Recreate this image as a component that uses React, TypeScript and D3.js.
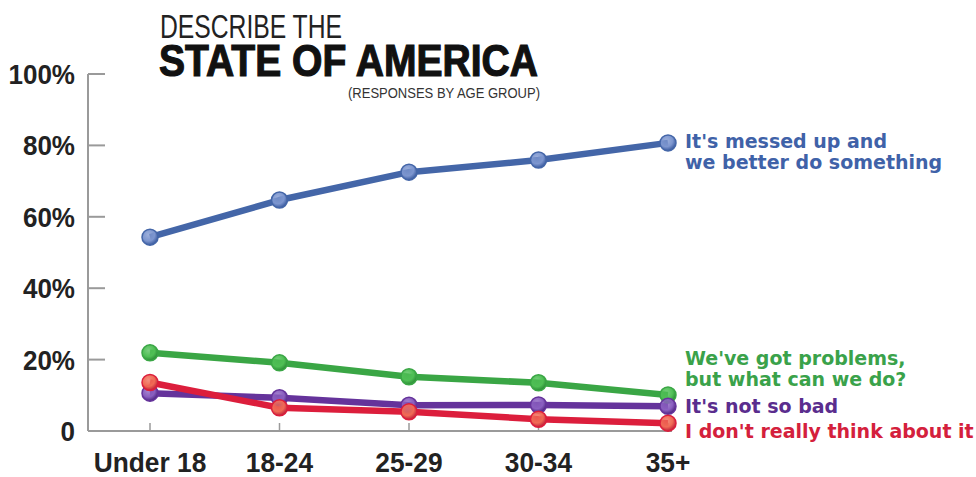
import React from "react";
import * as d3 from "d3";

const categories = ["Under 18", "18-24", "25-29", "30-34", "35+"];
const yTicks = [0, 20, 40, 60, 80, 100];
const yTickLabels = ["0", "20%", "40%", "60%", "80%", "100%"];

const messedUp = [54.3, 64.7, 72.5, 75.9, 80.7];
const gotProblems = [21.9, 19.1, 15.2, 13.5, 10.1];
const notSoBad = [10.6, 9.3, 7.2, 7.3, 6.9];
const dontThink = [13.6, 6.5, 5.4, 3.3, 2.2];

const seriesNames = ["messed", "problems", "notbad", "dontthink"];
const seriesLabels = [
  ["It's messed up and", "we better do something"],
  ["We've got problems,", "but what can we do?"],
  ["It's not so bad"],
  ["I don't really think about it"],
];

const W = 976;
const H = 477;

export default function App() {
  const x = d3.scalePoint<string>().domain(categories).range([150, 668]);
  const y = d3.scaleLinear().domain([0, 100]).range([431, 74]);

  const series = [
    { name: seriesNames[1], values: gotProblems, line: "#3aa645", dot: "#4fbf55", dark: "#2a8a35", text: "#3aa24a", label: seriesLabels[1] },
    { name: seriesNames[2], values: notSoBad, line: "#65339b", dot: "#8a5fc0", dark: "#4c2480", text: "#5a2d8e", label: seriesLabels[2] },
    { name: seriesNames[3], values: dontThink, line: "#dc1e3c", dot: "#f06a55", dark: "#c0203a", text: "#d4203c", label: seriesLabels[3] },
    { name: seriesNames[0], values: messedUp, line: "#4466a8", dot: "#7d96cf", dark: "#3a5a9e", text: "#3f62a8", label: seriesLabels[0] },
  ];

  const line = d3
    .line<number>()
    .x((_, i) => x(categories[i]) as number)
    .y((d) => y(d));

  const labelPos: Record<string, { y: number }> = {
    messed: { y: 148 },
    problems: { y: 365 },
    notbad: { y: 413 },
    dontthink: { y: 438 },
  };

  const condensed = "'Liberation Sans Narrow', 'Liberation Sans', Arial, sans-serif";
  const labelFont = "'DejaVu Sans', Verdana, sans-serif";

  return (
    <svg width={W} height={H} style={{ position: "absolute", left: 0, top: 0, background: "#fff" }}>
      <defs>
        {series.map((s) => (
          <radialGradient key={s.name} id={`g-${s.name}`} cx="40%" cy="35%" r="65%">
            <stop offset="0%" stopColor={s.dot} stopOpacity={0.75} />
            <stop offset="60%" stopColor={s.dot} />
            <stop offset="100%" stopColor={s.dark} />
          </radialGradient>
        ))}
      </defs>

      {/* Title */}
      <text x={160} y={38} fontFamily={condensed} fontSize={34} fill="#222" textLength={182} lengthAdjust="spacingAndGlyphs">
        DESCRIBE THE
      </text>
      <text x={159} y={76} fontFamily={condensed} fontWeight="bold" fontSize={44} fill="#111" stroke="#111" strokeWidth={1.2} textLength={379} lengthAdjust="spacingAndGlyphs">
        STATE OF AMERICA
      </text>
      <text x={348} y={98} fontFamily={condensed} fontSize={14} fill="#333" textLength={192} lengthAdjust="spacingAndGlyphs">
        (RESPONSES BY AGE GROUP)
      </text>

      {/* Axes */}
      <line x1={88} x2={88} y1={y(100)} y2={y(0)} stroke="#9a9a9a" strokeWidth={2} />
      <line x1={88} x2={672} y1={y(0)} y2={y(0)} stroke="#9a9a9a" strokeWidth={2} />
      {yTicks.filter((t) => t > 0).map((t) => (
        <line key={t} x1={88} x2={105} y1={y(t)} y2={y(t)} stroke="#9a9a9a" strokeWidth={2} />
      ))}
      {yTicks.map((t, i) => (
        <text key={t} transform={`translate(75,${y(t)}) scale(0.93,1)`} dy="0.36em" textAnchor="end" fontFamily={condensed} fontWeight="bold" fontSize={28} fill="#222">
          {yTickLabels[i]}
        </text>
      ))}
      {categories.map((c) => (
        <line key={c} x1={x(c)} x2={x(c)} y1={y(0) - 8} y2={y(0)} stroke="#9a9a9a" strokeWidth={1.5} />
      ))}
      {categories.map((c) => (
        <text key={c} transform={`translate(${x(c)},472) scale(0.94,1)`} textAnchor="middle" fontFamily={condensed} fontWeight="bold" fontSize={28} fill="#222">
          {c}
        </text>
      ))}

      {/* Lines */}
      {series.map((s) => (
        <path key={s.name} d={line(s.values) || ""} fill="none" stroke={s.line} strokeWidth={6.5} strokeLinejoin="round" />
      ))}
      {series.map((s) => (
        <g key={s.name + "-dots"}>
          {s.values.map((v, i) => (
            <circle key={i} cx={x(categories[i])} cy={y(v)} r={8} fill={`url(#g-${s.name})`} stroke={s.line} strokeWidth={1.5} />
          ))}
        </g>
      ))}

      {/* Labels */}
      {series.map((s) => (
        <text key={s.name + "-label"} x={685} y={labelPos[s.name].y} fontFamily={labelFont} fontWeight="bold" fontSize={19} fill={s.text}>
          {s.label.map((l, i) => (
            <tspan key={i} x={685} dy={i === 0 ? 0 : 21}>
              {l}
            </tspan>
          ))}
        </text>
      ))}
    </svg>
  );
}
